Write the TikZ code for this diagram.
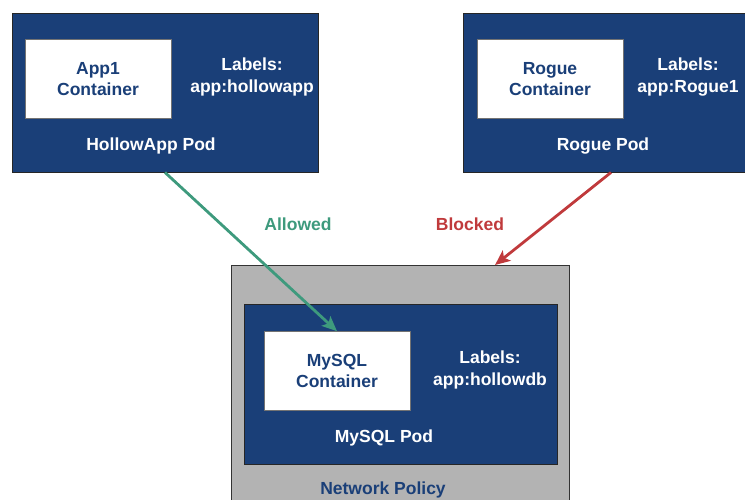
\documentclass[tikz,border=0pt]{standalone}
\usepackage{fontspec}
\setmainfont{Liberation Sans}
\usetikzlibrary{arrows.meta,positioning}
\definecolor{podblue}{HTML}{1A3F78}
\definecolor{policygray}{HTML}{B3B3B3}
\definecolor{okgreen}{HTML}{3E9A7D}
\definecolor{badred}{HTML}{C03A3C}

\begin{document}
\begin{tikzpicture}[x=1pt,y=-1pt,
  every node/.style={font=\fontsize{17.5}{21.5}\selectfont\bfseries},
  pod/.style={draw=black!85, fill=podblue, line width=0.9pt, inner sep=0pt},
  ctr/.style={draw=black!55, fill=white, line width=0.6pt, minimum width=146pt, minimum height=79pt, align=center, text=podblue, inner sep=0pt},
  lbl/.style={text=white, align=center},
  flow/.style={line width=2.8pt, -{Stealth[length=15pt,width=13pt,inset=3.5pt]}}]
\useasboundingbox (0,0) rectangle (745,499);
\clip (0,0) rectangle (745,499);

% hollowapp pod
\node[pod, minimum width=306pt, minimum height=159pt] (hollowpod) at (165,92.5) {};
\node[ctr] (app1) at (98,79) {App1\\Container};
\node[lbl] (app1lbl) at (252,77) {Labels:\\app:hollowapp};
\node[lbl] (hollowname) at (151,146) {HollowApp Pod};

% rogue pod
\node[pod, minimum width=296pt, minimum height=159pt] (roguepod) at (611,92.5) {};
\node[ctr] (rogue) at (550,79) {Rogue\\Container};
\node[lbl] (roguelbl) at (688,77) {Labels:\\app:Rogue1};
\node[lbl] (roguename) at (603,146) {Rogue Pod};

% network policy
\node[draw=black!80, fill=policygray, line width=0.9pt, minimum width=338pt, minimum height=250pt] (policy) at (400,390) {};
\node[text=podblue] (policyname) at (383,490) {Network Policy};

% mysql pod
\node[pod, minimum width=313pt, minimum height=160pt] (mysqlpod) at (400.5,384) {};
\node[ctr] (mysql) at (337,371) {MySQL\\Container};
\node[lbl] (mysqllbl) at (490,370) {Labels:\\app:hollowdb};
\node[lbl] (mysqlname) at (384,438) {MySQL Pod};

% traffic
\coordinate (stop) at (495,265);
\draw[flow, okgreen] (hollowpod.south) -- (mysql.north);
\draw[flow, badred] (roguepod.south) -- (stop);
\node[text=okgreen] (allowed) at (298,224) {Allowed};
\node[text=badred] (blocked) at (470,224) {Blocked};
\end{tikzpicture}
\end{document}
